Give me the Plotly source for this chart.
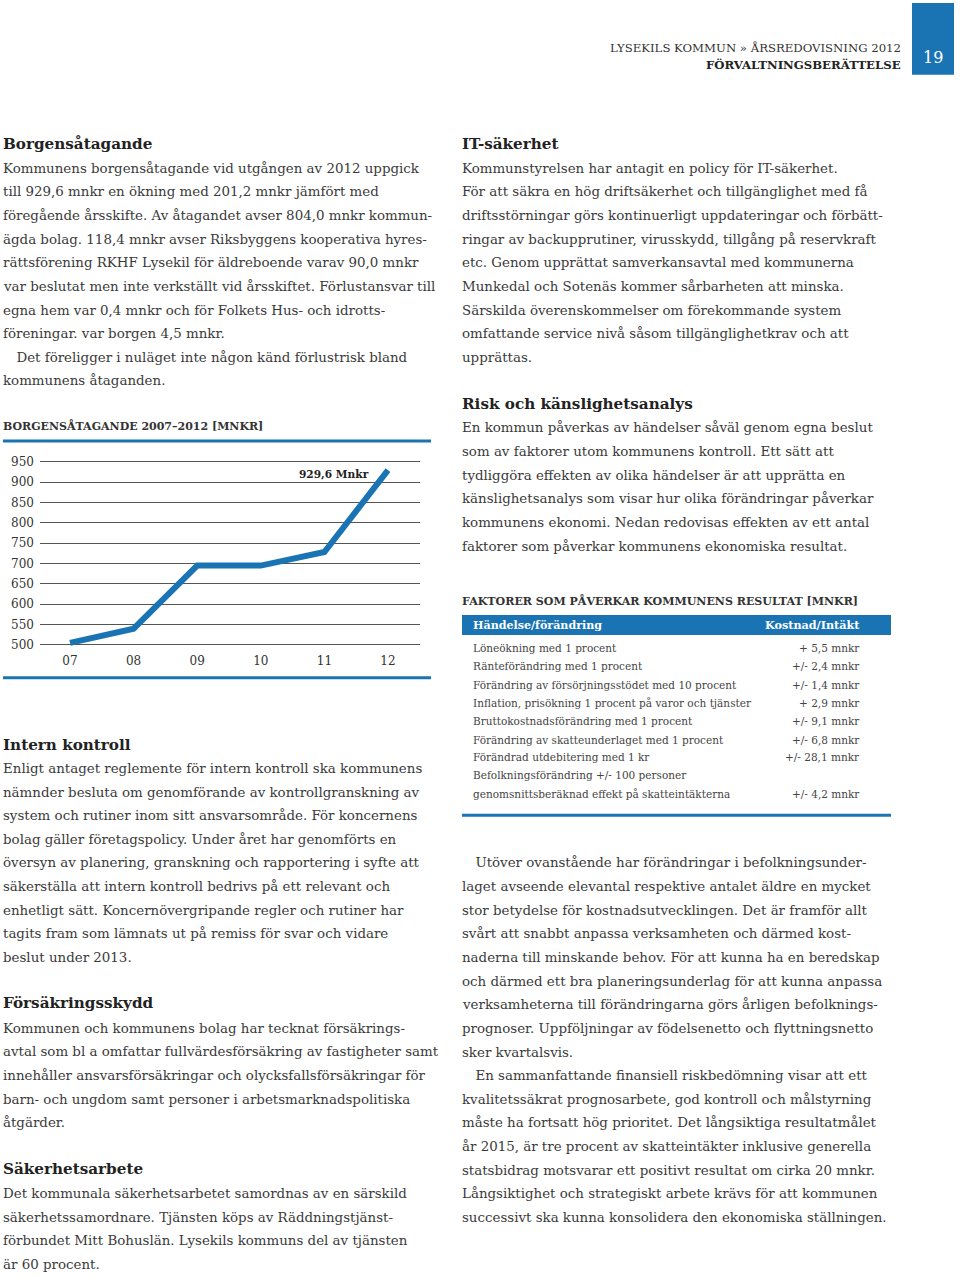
import plotly.graph_objects as go

W, H = 960, 1278
BLUE = "#1a74b4"
TXT = "#3a3a3a"
HEAD = "#222222"
FONT = "DejaVu Serif"

# ---- chart data ----
years = ["07", "08", "09", "10", "11", "12"]
borgen = [505, 540, 695, 695, 728.4, 929.6]
y_ticks = [500, 550, 600, 650, 700, 750, 800, 850, 900, 950]

# ---- table data ----
table_events = [
    "Löneökning med 1 procent",
    "Ränteförändring med 1 procent",
    "Förändring av försörjningsstödet med 10 procent",
    "Inflation, prisökning 1 procent på varor och tjänster",
    "Bruttokostnadsförändring med 1 procent",
    "Förändring av skatteunderlaget med 1 procent",
    "Förändrad utdebitering med 1 kr",
    "Befolkningsförändring +/- 100 personer",
    "genomsnittsberäknad effekt på skatteintäkterna",
]
table_values = ["+ 5,5 mnkr", "+/- 2,4 mnkr", "+/- 1,4 mnkr", "+ 2,9 mnkr",
                "+/- 9,1 mnkr", "+/- 6,8 mnkr", "+/- 28,1 mnkr", "", "+/- 4,2 mnkr"]
table_rows_y = [648, 666, 685, 703, 721, 740, 758, 776, 795]

# ---- page text ----
left_blocks = [
    ("h", 142, "Borgensåtagande"),
    ("p", 166, [
        "Kommunens borgensåtagande vid utgången av 2012 uppgick",
        "till 929,6 mnkr en ökning med 201,2 mnkr jämfört med",
        "föregående årsskifte. Av åtagandet avser 804,0 mnkr kommun-",
        "ägda bolag. 118,4 mnkr avser Riksbyggens kooperativa hyres-",
        "rättsförening RKHF Lysekil för äldreboende varav 90,0 mnkr",
        "var beslutat men inte verkställt vid årsskiftet. Förlustansvar till",
        "egna hem var 0,4 mnkr och för Folkets Hus- och idrotts-",
        "föreningar. var borgen 4,5 mnkr.",
        "\u2003Det föreligger i nuläget inte någon känd förlustrisk bland",
        "kommunens åtaganden.",
    ]),
    ("h", 745, "Intern kontroll"),
    ("p", 769, [
        "Enligt antaget reglemente för intern kontroll ska kommunens",
        "nämnder besluta om genomförande av kontrollgranskning av",
        "system och rutiner inom sitt ansvarsområde. För koncernens",
        "bolag gäller företagspolicy. Under året har genomförts en",
        "översyn av planering, granskning och rapportering i syfte att",
        "säkerställa att intern kontroll bedrivs på ett relevant och",
        "enhetligt sätt. Koncernövergripande regler och rutiner har",
        "tagits fram som lämnats ut på remiss för svar och vidare",
        "beslut under 2013.",
    ]),
    ("h", 1005, "Försäkringsskydd"),
    ("p", 1030, [
        "Kommunen och kommunens bolag har tecknat försäkrings-",
        "avtal som bl a omfattar fullvärdesförsäkring av fastigheter samt",
        "innehåller ansvarsförsäkringar och olycksfallsförsäkringar för",
        "barn- och ungdom samt personer i arbetsmarknadspolitiska",
        "åtgärder.",
    ]),
    ("h", 1171, "Säkerhetsarbete"),
    ("p", 1196, [
        "Det kommunala säkerhetsarbetet samordnas av en särskild",
        "säkerhetssamordnare. Tjänsten köps av Räddningstjänst-",
        "förbundet Mitt Bohuslän. Lysekils kommuns del av tjänsten",
        "är 60 procent.",
    ]),
]

right_blocks = [
    ("h", 142, "IT-säkerhet"),
    ("p", 166, [
        "Kommunstyrelsen har antagit en policy för IT-säkerhet.",
        "För att säkra en hög driftsäkerhet och tillgänglighet med få",
        "driftsstörningar görs kontinuerligt uppdateringar och förbätt-",
        "ringar av backupprutiner, virusskydd, tillgång på reservkraft",
        "etc. Genom upprättat samverkansavtal med kommunerna",
        "Munkedal och Sotenäs kommer sårbarheten att minska.",
        "Särskilda överenskommelser om förekommande system",
        "omfattande service nivå såsom tillgänglighetkrav och att",
        "upprättas.",
    ]),
    ("h", 403, "Risk och känslighetsanalys"),
    ("p", 427, [
        "En kommun påverkas av händelser såväl genom egna beslut",
        "som av faktorer utom kommunens kontroll. Ett sätt att",
        "tydliggöra effekten av olika händelser är att upprätta en",
        "känslighetsanalys som visar hur olika förändringar påverkar",
        "kommunens ekonomi. Nedan redovisas effekten av ett antal",
        "faktorer som påverkar kommunens ekonomiska resultat.",
    ]),
    ("p", 864, [
        "\u2003Utöver ovanstående har förändringar i befolkningsunder-",
        "laget avseende elevantal respektive antalet äldre en mycket",
        "stor betydelse för kostnadsutvecklingen. Det är framför allt",
        "svårt att snabbt anpassa verksamheten och därmed kost-",
        "naderna till minskande behov. För att kunna ha en beredskap",
        "och därmed ett bra planeringsunderlag för att kunna anpassa",
        "verksamheterna till förändringarna görs årligen befolknings-",
        "prognoser. Uppföljningar av födelsenetto och flyttningsnetto",
        "sker kvartalsvis.",
        "\u2003En sammanfattande finansiell riskbedömning visar att ett",
        "kvalitetssäkrat prognosarbete, god kontroll och målstyrning",
        "måste ha fortsatt hög prioritet. Det långsiktiga resultatmålet",
        "år 2015, är tre procent av skatteintäkter inklusive generella",
        "statsbidrag motsvarar ett positivt resultat om cirka 20 mnkr.",
        "Långsiktighet och strategiskt arbete krävs för att kommunen",
        "successivt ska kunna konsolidera den ekonomiska ställningen.",
    ]),
]

LINE_H = 23.75
BODY_SIZE = 13.4
HEAD_SIZE = 15.2


def px(x):
    return x / W


def py(y):
    return 1 - y / H


annotations = []
shapes = []


def text(x, y, s, size=BODY_SIZE, color=TXT, bold=False, anchor="left", family=FONT):
    if bold:
        s = "<b>" + s + "</b>"
    annotations.append(dict(
        x=px(x), y=py(y), xref="paper", yref="paper", text=s, showarrow=False,
        xanchor=anchor, yanchor="middle", borderpad=0,
        font=dict(family=family, size=size, color=color),
    ))


def blocks(x0, blks):
    for kind, y, content in blks:
        if kind == "h":
            text(x0, y, content, size=HEAD_SIZE, color=HEAD, bold=True)
        else:
            for i, line in enumerate(content):
                text(x0, y + i * LINE_H, line)


blocks(2, left_blocks)
blocks(461, right_blocks)

# header
shapes.append(dict(type="rect", xref="paper", yref="paper", x0=px(912), x1=px(954),
                   y0=py(0), y1=py(72), fillcolor=BLUE, line=dict(width=0), layer="below"))
text(933, 55, "19", size=16, color="white", anchor="center")
text(902, 45, "LYSEKILS KOMMUN » ÅRSREDOVISNING 2012", size=11.7, color="#333", anchor="right")
text(902, 62, "FÖRVALTNINGSBERÄTTELSE", size=11.7, color="#222", bold=True, anchor="right")

# chart title and rules
text(2, 425, "BORGENSÅTAGANDE 2007–2012 [MNKR]", size=11, color="#333", bold=True)
for yy in (440, 678):
    shapes.append(dict(type="line", xref="paper", yref="paper", x0=px(3), x1=px(431),
                       y0=py(yy), y1=py(yy), line=dict(color=BLUE, width=3)))
text(334, 473, "929,6 Mnkr", size=10.6, color="#222", bold=True, anchor="center")

# table
text(461, 601, "FAKTORER SOM PÅVERKAR KOMMUNENS RESULTAT [MNKR]", size=11.05, color="#333", bold=True)
shapes.append(dict(type="rect", xref="paper", yref="paper", x0=px(462), x1=px(891),
                   y0=py(635), y1=py(615), fillcolor=BLUE, line=dict(width=0)))
text(472, 625, "Händelse/förändring", size=11.1, color="white", bold=True)
text(861, 625, "Kostnad/Intäkt", size=11.2, color="white", bold=True, anchor="right")
for ev, val, yy in zip(table_events, table_values, table_rows_y):
    text(472, yy, ev, size=10.5, color="#444")
    if val:
        text(861, yy, val, size=10.5, color="#444", anchor="right")
shapes.append(dict(type="line", xref="paper", yref="paper", x0=px(462), x1=px(891),
                   y0=py(816), y1=py(816), line=dict(color=BLUE, width=3)))

# chart axes geometry
scale = (645 - 461) / 450.0
y_lo, y_hi = 490, 960
dom_bottom = 645 + (500 - y_lo) * scale
dom_top = 461 - (y_hi - 950) * scale
sp = (388 - 70) / 5.0
x_lo = -(70 - 40) / sp
x_hi = x_lo + (420 - 40) / sp

fig = go.Figure()
fig.add_trace(go.Scatter(
    x=list(range(len(years))), y=borgen, mode="lines",
    line=dict(color=BLUE, width=6), hoverinfo="skip", showlegend=False,
))

fig.update_layout(
    width=W, height=H, margin=dict(l=0, r=0, t=0, b=0),
    paper_bgcolor="white", plot_bgcolor="white",
    annotations=annotations, shapes=shapes, showlegend=False,
    xaxis=dict(domain=[px(40), px(420)], range=[x_lo, x_hi],
               tickvals=list(range(len(years))), ticktext=years,
               showgrid=False, zeroline=False, showline=False, ticks="",
               ticklabelstandoff=3,
               tickfont=dict(family=FONT, size=12, color="#333"), fixedrange=True),
    yaxis=dict(domain=[py(dom_bottom), py(dom_top)], range=[y_lo, y_hi],
               tickvals=y_ticks, showgrid=True, gridcolor="#555", gridwidth=1,
               zeroline=False, showline=False, ticks="", ticklabelstandoff=5,
               tickfont=dict(family=FONT, size=12, color="#333"), fixedrange=True),
)

fig.write_html("out.html", config={"displayModeBar": False},
               post_script="document.body.style.margin='0';")
